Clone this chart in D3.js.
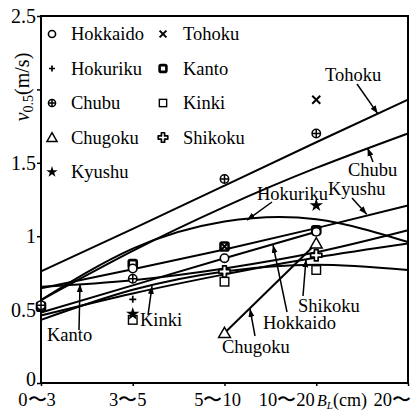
<!DOCTYPE html>
<html><head><meta charset="utf-8">
<script src="https://cdn.jsdelivr.net/npm/d3@7"></script>
<style>body{margin:0;background:#fff}svg{display:block}
svg text{font-family:"Liberation Serif","Times New Roman",Tinos,"DejaVu Serif","Noto Serif",serif !important;fill:#000}
</style>
</head><body>
<svg id="c" width="414" height="412"></svg>
<script>
// ---------- DATA ----------
const categories = ["0〜3","3〜5","5〜10","10〜20","20〜"];
const yTicks = [0, 0.5, 1, 1.5, 2, 2.5];
const yTickLabels = ["0","0.5","1","1.5","","2.5"];
const regions = ["Hokkaido","Tohoku","Hokuriku","Kanto","Chubu","Kinki","Chugoku","Shikoku","Kyushu"];

// observed values per category (null = none)
const obsHokkaido = [null, 0.78, 0.85, 1.03, null];
const obsTohoku   = [null, null, 0.93, 1.93, null];
const obsHokuriku = [null, 0.57, null, null, null];
const obsKanto    = [0.52, 0.81, 0.93, 1.04, null];
const obsChubu    = [0.53, 0.71, 1.39, 1.70, null];
const obsKinki    = [null, 0.43, 0.69, 0.77, null];
const obsChugoku  = [null, null, 0.34, 0.95, null];
const obsShikoku  = [null, null, 0.76, 0.87, null];
const obsKyushu   = [null, 0.47, null, 1.21, null];

// fitted curves, value at each category (null = not drawn)
const fitTohoku   = [0.76, 1.05, 1.345, 1.64, 1.93];
const fitChubu    = [0.565, 0.90, 1.20, 1.465, 1.70];
const fitHokuriku = [0.565, 0.915, 1.10, 1.115, 0.96];
const fitKyushu   = [0.645, 0.775, 0.91, 1.055, 1.21];
const fitKanto    = [0.655, 0.70, 0.78, 0.89, 1.04];
const fitShikoku  = [0.46, 0.61, 0.74, 0.855, 0.95];
const fitHokkaido = [0.48, 0.665, 0.85, 1.03, null];
const fitKinki    = [0.43, 0.635, 0.76, 0.805, 0.77];
const fitChugoku  = [null, null, 0.34, 0.95, null];

// ---------- LAYOUT ----------
const L = 41, R = 408, T = 16, B = 383;
const svg = d3.select("#c");
const x = d3.scaleLinear().domain([0, categories.length - 1]).range([L, R]);
const y = d3.scaleLinear().domain([0, 2.5]).range([B, T]);

svg.append("rect").attr("x", L).attr("y", T).attr("width", R - L).attr("height", B - T)
  .attr("fill", "none").attr("stroke", "#000").attr("stroke-width", 2);

// y axis
const ya = svg.append("g").attr("transform", `translate(${L},0)`)
  .call(d3.axisLeft(y).tickValues(yTicks).tickSize(4).tickPadding(1)
    .tickFormat((d, i) => yTickLabels[i]));
ya.select(".domain").remove();
ya.selectAll(".tick line").attr("stroke-width", 1.5);
ya.selectAll("text").attr("font-size", 20);
ya.selectAll(".tick").filter(d => d === 0).select("text").attr("dy", "0.1em");

// x axis
const xLabelDx = [-4.5, -5.5, -7.5, -30, 0];
const xa = svg.append("g").attr("transform", `translate(0,${B})`)
  .call(d3.axisBottom(x).tickValues(d3.range(categories.length)).tickSize(3)
    .tickFormat(i => categories[i]));
xa.select(".domain").remove();
xa.selectAll(".tick line").attr("stroke-width", 1.5);
xa.selectAll("text").attr("font-size", 18.5)
  .attr("y", 23).attr("dy", 0)
  .attr("dx", (d, i) => xLabelDx[i])
  .attr("text-anchor", (d, i) => i === categories.length - 1 ? "start" : "middle")
  .attr("x", (d, i) => i === categories.length - 1 ? -35 : 0);

// x axis title
const xt = svg.append("text").attr("x", 317).attr("y", 406).attr("font-size", 16);
xt.append("tspan").attr("font-style", "italic").text("B");
xt.append("tspan").attr("font-style", "italic").attr("font-size", 11).attr("dy", 3).text("L");
xt.append("tspan").attr("dy", -3).attr("font-size", 18).text("(cm)");

// y axis title
const yt = svg.append("text").attr("transform", "translate(29,87) rotate(-90)")
  .attr("text-anchor", "middle").attr("font-size", 20);
yt.append("tspan").attr("font-style", "italic").text("v");
yt.append("tspan").attr("font-size", 14).attr("dy", 4).text("0.5");
yt.append("tspan").attr("dy", -4).text("(m/s)");

// ---------- fitted lines ----------
const fits = [fitTohoku, fitChubu, fitHokuriku, fitKyushu, fitKanto, fitShikoku, fitHokkaido, fitKinki, fitChugoku];
const lineG = svg.append("g");
fits.forEach(f => {
  const pts = f.map((v, i) => v == null ? null : [i, v]).filter(Boolean);
  lineG.append("path")
    .attr("d", d3.line().x(p => x(p[0])).y(p => y(p[1])).curve(d3.curveNatural)(pts))
    .attr("fill", "none").attr("stroke", "#000").attr("stroke-width", 2);
});

// ---------- markers ----------
function marker(g, type, cx, cy, s) {
  s = s || 1;
  const k = g.append("g").attr("transform", `translate(${cx},${cy})`);
  if (type === "circle") {
    k.append("circle").attr("r", 4.2 * s).attr("fill", "#fff").attr("stroke", "#000").attr("stroke-width", 1.6);
  } else if (type === "x") {
    const a = 4 * s;
    k.append("path").attr("d", `M${-a},${-a}L${a},${a}M${-a},${a}L${a},${-a}`).attr("stroke", "#000").attr("stroke-width", 2);
  } else if (type === "plus") {
    const a = 3.5 * s;
    k.append("path").attr("d", `M${-a},0L${a},0M0,${-a}L0,${a}`).attr("stroke", "#000").attr("stroke-width", 1.7);
  } else if (type === "bsquare") {
    const a = 4 * s;
    k.append("rect").attr("x", -a).attr("y", -a).attr("width", 2 * a).attr("height", 2 * a).attr("rx", 1.5)
      .attr("fill", "#fff").attr("stroke", "#000").attr("stroke-width", 2.6);
  } else if (type === "oplus") {
    const a = 4.2 * s;
    k.append("circle").attr("r", a).attr("fill", "#fff").attr("stroke", "#000").attr("stroke-width", 1.5);
    k.append("path").attr("d", `M${-a},0L${a},0M0,${-a}L0,${a}`).attr("stroke", "#000").attr("stroke-width", 1.5);
  } else if (type === "square") {
    const a = 4.3 * s;
    k.append("rect").attr("x", -a).attr("y", -a).attr("width", 2 * a).attr("height", 2 * a)
      .attr("fill", "#fff").attr("stroke", "#000").attr("stroke-width", 1.4);
  } else if (type === "triangle") {
    k.append("path").attr("d", d3.symbol(d3.symbolTriangle, 60 * s * s)()).attr("transform", "translate(0,1)")
      .attr("fill", "#fff").attr("stroke", "#000").attr("stroke-width", 1.5);
  } else if (type === "cross") {
    k.append("path").attr("d", d3.symbol(d3.symbolCross, 70 * s * s)())
      .attr("fill", "#fff").attr("stroke", "#000").attr("stroke-width", 1.7).attr("stroke-linejoin", "round");
  } else if (type === "star") {
    k.append("path").attr("d", d3.symbol(d3.symbolStar, 55 * s * s)()).attr("fill", "#000");
  }
}

const markerType = {Hokkaido: "circle", Tohoku: "x", Hokuriku: "plus", Kanto: "bsquare", Chubu: "oplus",
  Kinki: "square", Chugoku: "triangle", Shikoku: "cross", Kyushu: "star"};
const obsBy = {Hokkaido: obsHokkaido, Tohoku: obsTohoku, Hokuriku: obsHokuriku, Kanto: obsKanto, Chubu: obsChubu,
  Kinki: obsKinki, Chugoku: obsChugoku, Shikoku: obsShikoku, Kyushu: obsKyushu};
const drawOrder = ["Kanto", "Kinki", "Hokkaido", "Tohoku", "Hokuriku", "Chubu", "Chugoku", "Shikoku", "Kyushu"];
const mG = svg.append("g");
drawOrder.forEach(r => {
  obsBy[r].forEach((v, i) => { if (v != null) marker(mG, markerType[r], x(i), y(v)); });
});

// ---------- legend ----------
const legendCols = [["Hokkaido", "Hokuriku", "Chubu", "Chugoku", "Kyushu"], ["Tohoku", "Kanto", "Kinki", "Shikoku"]];
const legG = svg.append("g");
legendCols.forEach((col, ci) => {
  const mx = ci === 0 ? 52 : 163, tx = ci === 0 ? 71 : 183;
  col.forEach((r, ri) => {
    const ry = 34 + ri * 34.5;
    marker(legG, markerType[r], mx, ry, 0.85);
    legG.append("text").attr("x", tx).attr("y", ry + 6).attr("font-size", 18.5).text(r);
  });
});

// ---------- annotations ----------
svg.append("defs").append("marker").attr("id", "ah").attr("viewBox", "-8 -4 9 8")
  .attr("refX", 0).attr("refY", 0).attr("markerWidth", 9).attr("markerHeight", 8)
  .attr("markerUnits", "userSpaceOnUse").attr("orient", "auto")
  .append("path").attr("d", "M0,0L-8,-3L-8,3Z").attr("fill", "#000");

const annotations = [
  {name: "Tohoku",   tc: 3.67, tv: 1.835, tail: [357, 84],  tx: 325, ty: 81},
  {name: "Chubu",    tc: 3.56, tv: 1.60,  tail: [373, 162], tx: 348, ty: 176},
  {name: "Kyushu",   tc: 3.55, tv: 1.15,  tail: [352, 198], tx: 328, ty: 195},
  {name: "Hokuriku", tc: 2.245, tv: 1.11, tail: [272, 202], tx: 257, ty: 200},
  {name: "Kanto",    tc: 0.425, tv: 0.674, tail: [79, 330], tx: 47,  ty: 341},
  {name: "Kinki",    tc: 1.21, tv: 0.66,  tail: [148, 315], tx: 140, ty: 326},
  {name: "Shikoku",  tc: 2.888, tv: 0.842, tail: [303, 296], tx: 298, ty: 312},
  {name: "Hokkaido", tc: 2.529, tv: 0.94, tail: [287, 312], tx: 263, ty: 329},
  {name: "Chugoku",  tc: 2.278, tv: 0.505, tail: [255, 336], tx: 222, ty: 353}
];
const aG = svg.append("g");
annotations.forEach(a => {
  aG.append("line").attr("x1", a.tail[0]).attr("y1", a.tail[1])
    .attr("x2", x(a.tc)).attr("y2", y(a.tv))
    .attr("stroke", "#000").attr("stroke-width", 1.5).attr("marker-end", "url(#ah)");
  aG.append("text").attr("x", a.tx).attr("y", a.ty).attr("font-size", 18.5).text(a.name);
});
</script>
</body></html>
